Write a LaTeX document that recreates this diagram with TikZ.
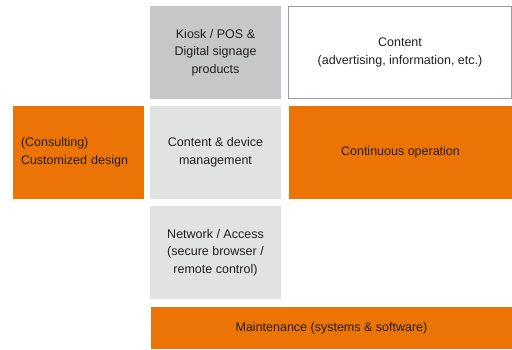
\documentclass[tikz,border=0pt]{standalone}
\usepackage{fontspec}
\setmainfont{Liberation Sans}

\definecolor{boxorange}{HTML}{EC7404}
\definecolor{boxgray}{HTML}{C6C7C8}
\definecolor{boxlight}{HTML}{E1E2E2}
\definecolor{boxline}{HTML}{9A9A9A}
\definecolor{boxtext}{HTML}{231F20}

\tikzset{
  tile/.style={rectangle, inner sep=0pt, align=center, text=boxtext,
    font=\fontsize{12.5}{17.5}\selectfont, minimum height=93pt},
  orangebox/.style={tile, fill=boxorange},
  graybox/.style={tile, fill=boxgray},
  lightbox/.style={tile, fill=boxlight},
  whitebox/.style={tile, fill=white, draw=boxline, line width=1pt}
}

\begin{document}
\begin{tikzpicture}[x=1pt,y=1pt]

  \useasboundingbox (0,0) rectangle (512,349);

% top row
  \node[graybox, minimum width=131pt] (kiosk) at (215.5,296.5) {Kiosk / POS \&\\Digital signage\\products};
  \node[whitebox, minimum width=223pt, minimum height=92pt] (content) at (400,296.5) {Content\\(advertising, information, etc.)};

% middle row
  \node[orangebox, align=left, text width=115pt, inner xsep=8pt] (consulting) at (78.5,196.5) {(Consulting)\\Customized design};
  \node[lightbox, minimum width=131pt] (management) at (215.5,196.5) {Content \& device\\management};
  \node[orangebox, minimum width=223pt] (operation) at (400.5,196.5) {Continuous operation};

% bottom rows
  \node[lightbox, minimum width=131pt] (network) at (215.5,96.5) {Network / Access\\(secure browser /\\remote control)};
  \node[orangebox, minimum width=361pt, minimum height=42pt] (maintenance) at (331.5,21) {Maintenance (systems \& software)};

\end{tikzpicture}
\end{document}
